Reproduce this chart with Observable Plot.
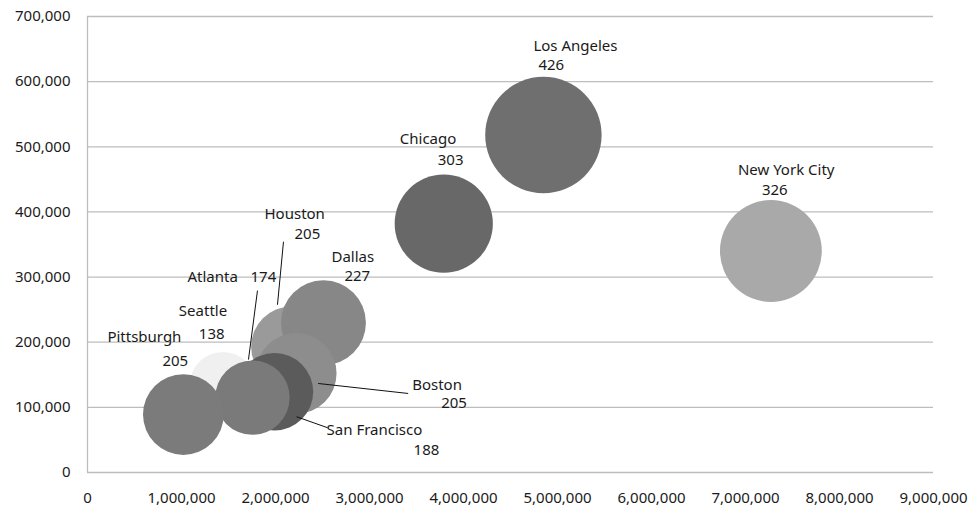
<!DOCTYPE html>
<html>
<head>
<meta charset="utf-8">
<script src="https://cdn.jsdelivr.net/npm/d3@7"></script>
<script src="https://cdn.jsdelivr.net/npm/@observablehq/plot@0.6"></script>
<style>
  html, body { margin: 0; padding: 0; background: #fff; }
</style>
</head>
<body>
<div id="chart"></div>
<script>
// City bubbles: horizontal value, vertical value and bubble size
const cities = ["New York City", "Los Angeles", "Chicago", "Houston", "Dallas",
                "Boston", "San Francisco", "Seattle", "Atlanta", "Pittsburgh"];
const xValues = [7270000, 4850000, 3790000, 2170000, 2510000,
                 2220000, 1990000, 1440000, 1755000, 1020000];
const yValues = [340000, 518000, 382000, 193000, 230000,
                 152000, 124000, 134000, 115000, 89000];
const bubbleSizes = [326, 426, 303, 205, 227, 205, 188, 138, 174, 205];

const xTicks = d3.range(0, 9000001, 1000000);
const yTicks = d3.range(0, 700001, 100000);

// Bubble fills (grey shades)
const fills = {
  "New York City": "#a9a9a9",
  "Los Angeles": "#6f6f6f",
  "Chicago": "#686868",
  "Houston": "#9a9a9a",
  "Dallas": "#878787",
  "Boston": "#8d8d8d",
  "San Francisco": "#5b5b5b",
  "Seattle": "#f0f0f0",
  "Atlanta": "#7a7a7a",
  "Pittsburgh": "#7b7b7b"
};

// Label placement in pixels relative to the bubble centre:
// name/value = [dx, dy] of the text's left edge, leader = [x1, y1, x2, y2]
const labelLayout = {
  "New York City": {name: [-33, -81], value: [-9, -61]},
  "Los Angeles":   {name: [-10, -89], value: [-5, -70]},
  "Chicago":       {name: [-44, -84], value: [-6, -63]},
  "Houston":       {name: [-27, -133], value: [3, -113], leader: [-8, -105, -14, -42]},
  "Dallas":        {name: [8, -65], value: [21, -46]},
  "Boston":        {name: [116, 12], value: [145, 30], leader: [22, 10, 112, 20]},
  "San Francisco": {name: [52, 38], value: [139, 58], leader: [22, 25, 53, 36]},
  "Seattle":       {name: [-44, -74], value: [-24, -51]},
  "Atlanta":       {name: [-65, -120], value: [-2, -120], leader: [5, -107, -4, -38]},
  "Pittsburgh":    {name: [-76, -77], value: [-21, -53]}
};

const W = 969, H = 508;
const mL = 87, mR = 36, mT = 16, mB = 36;
const xDomain = [0, 9000000], yDomain = [0, 700000];

// Same mapping Plot uses for the x and y scales, to place labels by pixel offset
const sx = d3.scaleLinear(xDomain, [mL, W - mR]);
const sy = d3.scaleLinear(yDomain, [H - mB, mT]);
const shiftX = (v, d) => sx.invert(sx(v) + d);
const shiftY = (v, d) => sy.invert(sy(v) + d);

const bubbles = cities.map((city, i) => ({
  city, x: xValues[i], y: yValues[i], size: bubbleSizes[i]
}));

const labels = bubbles.flatMap(b => {
  const L = labelLayout[b.city];
  return [
    {text: b.city, x: shiftX(b.x, L.name[0]), y: shiftY(b.y, L.name[1])},
    {text: String(b.size), x: shiftX(b.x, L.value[0]), y: shiftY(b.y, L.value[1])}
  ];
});

const leaders = bubbles
  .filter(b => labelLayout[b.city].leader)
  .map(b => {
    const [a, c, e, f] = labelLayout[b.city].leader;
    return {x1: shiftX(b.x, a), y1: shiftY(b.y, c), x2: shiftX(b.x, e), y2: shiftY(b.y, f)};
  });

const fmt = d3.format(",");

const chart = Plot.plot({
  width: W,
  height: H,
  marginLeft: mL,
  marginRight: mR,
  marginTop: mT,
  marginBottom: mB,
  style: {
    fontFamily: "'Noto Sans', 'DejaVu Sans', sans-serif",
    fontSize: "15px",
    color: "#1a1a1a",
    background: "#fff",
    overflow: "visible"
  },
  x: {domain: xDomain},
  y: {domain: yDomain},
  r: {type: "sqrt", domain: [0, 426], range: [0, 58.2]},
  color: {type: "identity"},
  marks: [
    Plot.gridY(yTicks, {stroke: "#bdbdbd", strokeOpacity: 1, strokeWidth: 1.3}),
    Plot.ruleX([0], {stroke: "#bdbdbd", strokeWidth: 1.3}),
    Plot.axisY(yTicks, {tickSize: 0, tickPadding: 17, tickFormat: fmt, label: null, fontSize: 15, fill: "#1a1a1a"}),
    Plot.axisX(xTicks, {tickSize: 0, tickPadding: 20, tickFormat: fmt, label: null, fontSize: 15, fill: "#1a1a1a"}),
    Plot.dot(bubbles, {x: "x", y: "y", r: "size", fill: d => fills[d.city], stroke: "none", sort: null}),
    Plot.link(leaders, {x1: "x1", y1: "y1", x2: "x2", y2: "y2", stroke: "#111", strokeWidth: 1}),
    Plot.text(labels, {x: "x", y: "y", text: "text", textAnchor: "start", fill: "#1a1a1a", fontSize: 15})
  ]
});

document.getElementById("chart").appendChild(chart);
</script>
</body>
</html>
